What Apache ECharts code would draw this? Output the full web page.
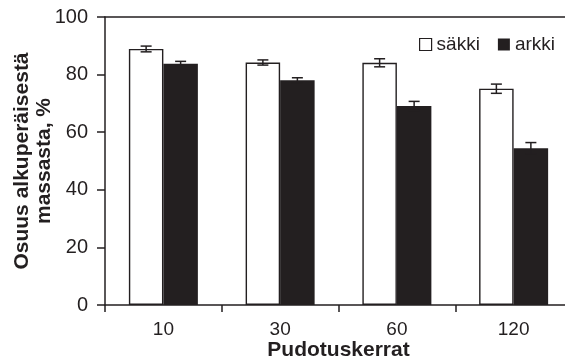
<!DOCTYPE html>
<html>
<head>
<meta charset="utf-8">
<script src="https://cdn.jsdelivr.net/npm/echarts@6/dist/echarts.min.js"></script>
<style>
html,body{margin:0;padding:0;background:#fff;}
#c{width:565px;height:364px;}
</style>
</head>
<body>
<div id="c"></div>
<script>
var categories = ['10', '30', '60', '120'];
var sakki = [88.9, 84.2, 84.1, 75.1];
var sakkiErr = [1.0, 0.9, 1.4, 1.6];
var arkki = [83.8, 78.0, 69.1, 54.4];
var arkkiErr = [0.8, 0.9, 1.6, 2.0];
var yTicks = [0, 20, 40, 60, 80, 100];

var FONT = '"Liberation Sans", Arial, sans-serif';
var INK = '#231f20';
var BAR_W = 34.5;

function errData(vals, errs) {
  return vals.map(function (v, i) { return [i, v - errs[i], v + errs[i]]; });
}
function errRender(offset) {
  return function (params, api) {
    var x = api.value(0);
    var lo = api.coord([x, api.value(1)]);
    var hi = api.coord([x, api.value(2)]);
    var cx = lo[0] + offset;
    var cap = 5.5;
    var st = { stroke: INK, lineWidth: 1.5 };
    return {
      type: 'group',
      children: [
        { type: 'line', shape: { x1: cx, y1: lo[1], x2: cx, y2: hi[1] }, style: st },
        { type: 'line', shape: { x1: cx - cap, y1: lo[1], x2: cx + cap, y2: lo[1] }, style: st },
        { type: 'line', shape: { x1: cx - cap, y1: hi[1], x2: cx + cap, y2: hi[1] }, style: st }
      ]
    };
  };
}

var chart = echarts.init(document.getElementById('c'), null, { renderer: 'canvas' });
chart.setOption({
  animation: false,
  backgroundColor: '#fff',
  textStyle: { fontFamily: FONT, color: INK },
  grid: { left: 105, right: -7, top: 17, bottom: 59, containLabel: false, outerBoundsMode: 'none' },
  legend: {
    left: 414, top: 30,
    itemWidth: 12, itemHeight: 12, itemGap: 18,
    icon: 'rect',
    textStyle: { fontFamily: FONT, fontSize: 19, color: INK },
    data: [
      { name: 'säkki', itemStyle: { color: '#fff', borderColor: INK, borderWidth: 1.2 } },
      { name: 'arkki', itemStyle: { color: INK } }
    ]
  },
  xAxis: [{
    type: 'category',
    data: categories,
    position: 'bottom',
    axisLine: { show: true, lineStyle: { color: INK, width: 1.5 } },
    axisTick: { show: true, length: 7, lineStyle: { color: INK, width: 1.5 } },
    axisLabel: { fontFamily: FONT, fontSize: 19, color: INK, margin: 15 },
    name: 'Pudotuskerrat',
    nameLocation: 'middle',
    nameMoveOverlap: false,
    nameGap: 35,
    nameTextStyle: { fontFamily: FONT, fontSize: 21, fontWeight: 'bold', color: INK }
  }, {
    type: 'category',
    data: categories,
    position: 'top',
    axisLine: { show: true, lineStyle: { color: INK, width: 1.5 } },
    axisTick: { show: false },
    axisLabel: { show: false }
  }],
  yAxis: {
    type: 'value',
    min: yTicks[0], max: yTicks[yTicks.length - 1], interval: 20,
    axisLine: { show: true, lineStyle: { color: INK, width: 1.5 } },
    axisTick: { show: true, length: 8, lineStyle: { color: INK, width: 1.5 } },
    axisLabel: { fontFamily: FONT, fontSize: 20, color: INK, margin: 17 },
    splitLine: { show: false },
    name: 'Osuus alkuperäisestä\nmassasta, %',
    nameLocation: 'middle',
    nameMoveOverlap: false,
    nameRotate: 90,
    nameGap: 50,
    nameTextStyle: { fontFamily: FONT, fontSize: 21, fontWeight: 'bold', color: INK, lineHeight: 22 }
  },
  series: [{
    name: 'säkki', type: 'bar', data: sakki, barWidth: BAR_W, barGap: '0%',
    itemStyle: { color: '#fff', borderColor: INK, borderWidth: 1.4 }
  }, {
    name: 'arkki', type: 'bar', data: arkki, barWidth: BAR_W, barGap: '0%',
    itemStyle: { color: INK }
  }, {
    type: 'custom', name: 'err1', data: errData(sakki, sakkiErr),
    renderItem: errRender(-BAR_W / 2), encode: { x: 0, y: [1, 2] }, z: 10
  }, {
    type: 'custom', name: 'err2', data: errData(arkki, arkkiErr),
    renderItem: errRender(BAR_W / 2), encode: { x: 0, y: [1, 2] }, z: 10
  }]
});
</script>
</body>
</html>
